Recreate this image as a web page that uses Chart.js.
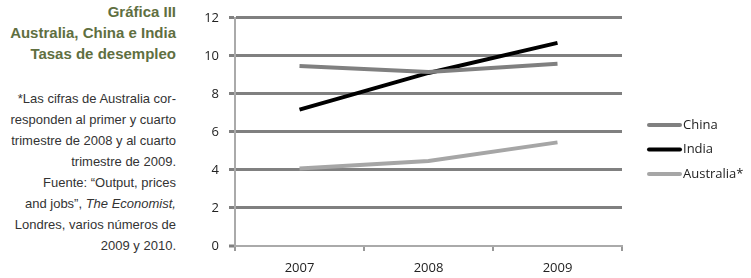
<!DOCTYPE html>
<html><head><meta charset="utf-8">
<script src="https://cdn.jsdelivr.net/npm/chart.js@4/dist/chart.umd.min.js"></script>
<style>
html,body{margin:0;padding:0;background:#fff;width:751px;height:278px;overflow:hidden;}
#left{position:absolute;left:0;top:0;width:176px;text-align:right;font-family:"Liberation Sans",Arial,sans-serif;}
#title{color:#5f6f41;font-weight:bold;font-size:15px;line-height:21px;margin-top:1px;}
#notes{color:#333;font-size:13px;line-height:21px;margin-top:24px;}
#wrap{position:absolute;left:190px;top:0;width:561px;height:278px;}
</style></head>
<body>
<div id="left">
<div id="title">Gráfica III<br>Australia, China e India<br>Tasas de desempleo</div>
<div id="notes">*Las cifras de Australia cor-<br>responden al primer y cuarto<br>trimestre de 2008 y al cuarto<br>trimestre de 2009.<br>Fuente: “Output, prices<br>and jobs”, <i>The Economist,</i><br>Londres, varios números de<br>2009 y 2010.</div>
</div>
<div id="wrap"><canvas id="c" width="561" height="278"></canvas></div>
<script>
const years = ["2007","2008","2009"];
const china = [9.47, 9.15, 9.58];
const india = [7.17, 9.1, 10.68];
const australia = [4.07, 4.47, 5.45];
const yTicks = [0,2,4,6,8,10,12];

const font = {family:"'Open Sans', 'DejaVu Sans', sans-serif", size:13};

const sideLegend = {
  id:'sideLegend',
  afterDraw(chart){
    const ctx = chart.ctx;
    const x0 = chart.chartArea.right + 25;
    ctx.save();
    ctx.font = "13px 'Open Sans', 'DejaVu Sans', sans-serif";
    ctx.textBaseline = 'middle';
    ctx.fillStyle = '#222';
    chart.data.datasets.forEach((ds,i)=>{
      const y = 125 + i*24.5;
      ctx.strokeStyle = ds.borderColor;
      ctx.lineWidth = 4;
      ctx.lineCap = 'round';
      ctx.beginPath(); ctx.moveTo(x0+2,y); ctx.lineTo(x0+33,y); ctx.stroke();
      ctx.fillText(ds.label, x0+36, y);
    });
    ctx.restore();
  }
};

new Chart(document.getElementById('c'), {
  type:'line',
  data:{labels:years, datasets:[
    {label:'China', data:china, borderColor:'#808080', backgroundColor:'#808080', borderWidth:4, pointRadius:0, tension:0},
    {label:'India', data:india, borderColor:'#000000', backgroundColor:'#000000', borderWidth:4, pointRadius:0, tension:0},
    {label:'Australia*', data:australia, borderColor:'#a6a6a6', backgroundColor:'#a6a6a6', borderWidth:4, pointRadius:0, tension:0}
  ]},
  plugins:[sideLegend],
  options:{
    responsive:false, animation:false,
    layout:{padding:{top:11,right:129,bottom:0,left:0}},
    plugins:{
      legend:{display:false},
      tooltip:{enabled:false}
    },
    scales:{
      x:{offset:true,
        grid:{offset:true, drawOnChartArea:false, drawTicks:true, tickLength:5, color:'#999', lineWidth:2},
        border:{color:'#aaa', width:2},
        ticks:{color:'#222', font:font, padding:9},
        afterFit:s=>{s.height=32;}
      },
      y:{min:0,max:12,
        afterBuildTicks:s=>{s.ticks=yTicks.map(v=>({value:v}));},
        grid:{color:'#808080', lineWidth:c=>c.tick&&c.tick.value===0?0:3, tickLength:6, tickColor:'#808080', tickWidth:3},
        border:{color:'#aaa', width:2},
        ticks:{color:'#222', font:font, padding:10},
        afterFit:s=>{s.width=45;}
      }
    }
  }
});
</script>
</body></html>
